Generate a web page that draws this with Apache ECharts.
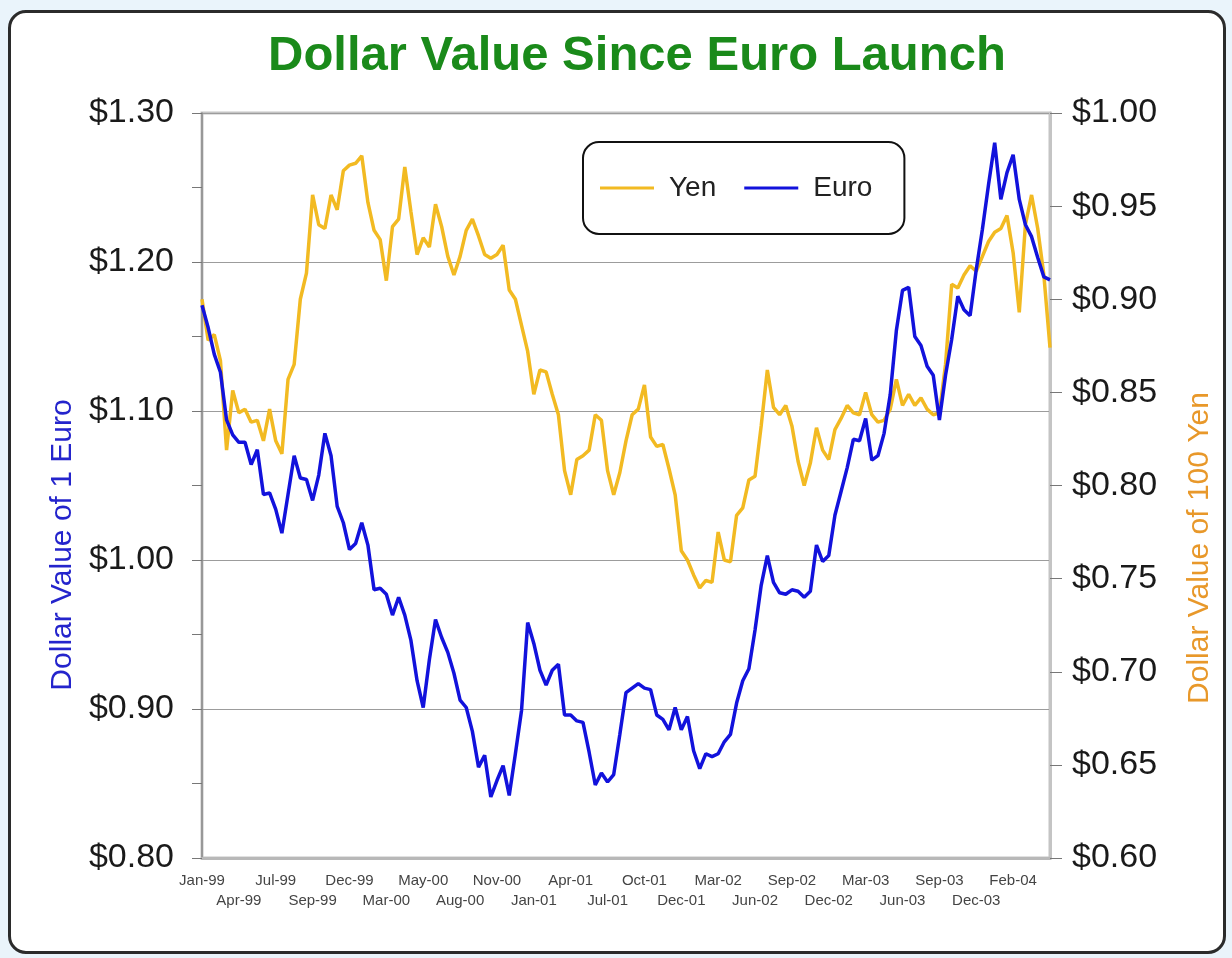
<!DOCTYPE html>
<html>
<head>
<meta charset="utf-8">
<title>Dollar Value Since Euro Launch</title>
<script src="https://cdn.jsdelivr.net/npm/echarts/dist/echarts.min.js"></script>
<style>
  html, body { margin: 0; padding: 0; }
  body { width: 1232px; height: 958px; background: #eaf4fb; position: relative; overflow: hidden; }
  #card {
    position: absolute; left: 8px; top: 10px; width: 1218px; height: 944px;
    box-sizing: border-box; border: 3px solid #2b2b2b; border-radius: 18px; background: #fff;
  }
  #chart { position: absolute; left: 0; top: 0; width: 1232px; height: 958px; }
</style>
</head>
<body>
<div id="card"></div>
<div id="chart"></div>
<script>
// labels under the x axis, one every STEP points (two staggered rows)
const tickLabels = [
  "Jan-99", "Apr-99", "Jul-99", "Sep-99", "Dec-99", "Mar-00", "May-00", "Aug-00",
  "Nov-00", "Jan-01", "Apr-01", "Jul-01", "Oct-01", "Dec-01", "Mar-02", "Jun-02",
  "Sep-02", "Dec-02", "Mar-03", "Jun-03", "Sep-03", "Dec-03", "Feb-04",
];
const STEP = 6;

// dollar value of 1 euro (left axis)
const euro = [
  1.171, 1.156, 1.138, 1.126, 1.094, 1.084, 1.079, 1.079, 1.064, 1.074,
  1.044, 1.045, 1.034, 1.018, 1.044, 1.070, 1.055, 1.054, 1.040, 1.057,
  1.085, 1.070, 1.036, 1.025, 1.007, 1.011, 1.025, 1.010, 0.980, 0.981,
  0.977, 0.963, 0.975, 0.963, 0.946, 0.919, 0.901, 0.933, 0.960, 0.948,
  0.938, 0.924, 0.906, 0.901, 0.885, 0.861, 0.869, 0.841, 0.852, 0.862,
  0.842, 0.870, 0.899, 0.958, 0.944, 0.926, 0.916, 0.926, 0.930, 0.896,
  0.896, 0.892, 0.891, 0.871, 0.849, 0.857, 0.851, 0.856, 0.883, 0.911,
  0.914, 0.917, 0.914, 0.913, 0.896, 0.893, 0.886, 0.901, 0.886, 0.895,
  0.872, 0.860, 0.870, 0.868, 0.870, 0.878, 0.883, 0.904, 0.919, 0.927,
  0.953, 0.983, 1.003, 0.985, 0.978, 0.977, 0.980, 0.979, 0.975, 0.979,
  1.010, 0.999, 1.003, 1.030, 1.046, 1.062, 1.081, 1.080, 1.095, 1.067,
  1.070, 1.085, 1.111, 1.154, 1.181, 1.183, 1.150, 1.144, 1.130, 1.124,
  1.094, 1.124, 1.148, 1.177, 1.168, 1.164, 1.195, 1.222, 1.252, 1.280,
  1.242, 1.260, 1.272, 1.242, 1.225, 1.217, 1.203, 1.190, 1.188,
];

// dollar value of 100 yen (right axis)
const yen = [
  0.900, 0.878, 0.881, 0.867, 0.819, 0.851, 0.839, 0.841, 0.834, 0.835,
  0.824, 0.841, 0.824, 0.817, 0.857, 0.865, 0.900, 0.914, 0.956, 0.940,
  0.938, 0.956, 0.948, 0.969, 0.972, 0.973, 0.977, 0.952, 0.937, 0.932,
  0.910, 0.939, 0.943, 0.971, 0.947, 0.924, 0.933, 0.928, 0.951, 0.939,
  0.923, 0.913, 0.923, 0.937, 0.943, 0.934, 0.924, 0.922, 0.924, 0.929,
  0.905, 0.900, 0.886, 0.872, 0.849, 0.862, 0.861, 0.849, 0.838, 0.808,
  0.795, 0.814, 0.816, 0.819, 0.838, 0.835, 0.808, 0.795, 0.807, 0.824,
  0.838, 0.841, 0.854, 0.826, 0.821, 0.822, 0.809, 0.795, 0.765, 0.760,
  0.752, 0.745, 0.749, 0.748, 0.775, 0.760, 0.759, 0.784, 0.788, 0.803,
  0.805, 0.832, 0.862, 0.842, 0.838, 0.843, 0.832, 0.813, 0.800, 0.812,
  0.831, 0.819, 0.814, 0.830, 0.836, 0.843, 0.839, 0.838, 0.850, 0.838,
  0.834, 0.835, 0.841, 0.857, 0.843, 0.849, 0.843, 0.847, 0.841, 0.838,
  0.839, 0.865, 0.908, 0.906, 0.913, 0.918, 0.915, 0.923, 0.931, 0.936,
  0.938, 0.945, 0.925, 0.893, 0.940, 0.956, 0.938, 0.913, 0.874,
];

const categories = euro.map((_, i) => String(i)); // weekly points
const FONT = "Liberation Sans, Arial, sans-serif";
const money = (v) => "$" + v.toFixed(2);

// one x axis per label row: row 0 = Jan-99, Jul-99, ...; row 1 = Apr-99, Sep-99, ...
const rowAxis = (row) => ({
  type: "category",
  data: categories,
  boundaryGap: false,
  position: "bottom",
  axisLine: row === 0 ? { lineStyle: { color: "#b8b8b8", width: 3 } } : { show: false },
  axisTick: { show: false },
  splitLine: { show: false },
  axisLabel: {
    interval: (idx) => idx % (2 * STEP) === row * STEP && !!tickLabels[idx / STEP],
    showMinLabel: true,
    showMaxLabel: true,
    hideOverlap: false,
    margin: row === 0 ? 15 : 35,
    fontSize: 15,
    color: "#444",
    fontFamily: FONT,
    formatter: (v, idx) => {
      const k = idx / STEP;
      return Number.isInteger(k) && k % 2 === row && tickLabels[k] ? tickLabels[k] : "";
    },
  },
});

const chart = echarts.init(document.getElementById("chart"));
const option = {
  animation: false,
  title: {
    text: "Dollar Value Since Euro Launch",
    left: 263,
    top: 27,
    textStyle: { fontSize: 49, fontWeight: "bold", color: "#1a8a1a", fontFamily: FONT },
  },
  legend: {
    data: ["Yen", "Euro"],
    left: 583,
    top: 142,
    padding: [32, 32, 32, 17],
    backgroundColor: "#fff",
    borderColor: "#111",
    borderWidth: 2,
    borderRadius: 16,
    icon: "rect",
    itemWidth: 54,
    itemHeight: 3,
    itemGap: 28,
    textStyle: { fontSize: 28, color: "#222", fontFamily: FONT, padding: [0, 0, 0, 10] },
  },
  grid: {
    left: 202,
    right: 182,
    top: 113,
    bottom: 100,
    show: true,
    borderColor: "#c4c4c4",
    borderWidth: 3,
  },
  xAxis: [rowAxis(0), rowAxis(1)],
  yAxis: [
    {
      type: "value",
      position: "left",
      min: 0.8,
      max: 1.3,
      interval: 0.1,
      axisLine: { show: true, lineStyle: { color: "#8a8a8a", width: 1.5 } },
      axisTick: { show: true, length: 10, lineStyle: { color: "#777" } },
      minorTick: { show: true, splitNumber: 2, length: 10, lineStyle: { color: "#777" } },
      splitLine: { show: true, lineStyle: { color: "#9c9c9c", width: 1.2 } },
      axisLabel: { formatter: money, fontSize: 34, color: "#1a1a1a", margin: 28, fontFamily: FONT },
    },
    {
      type: "value",
      position: "right",
      min: 0.6,
      max: 1.0,
      interval: 0.05,
      axisLine: { show: true, lineStyle: { color: "#c4c4c4", width: 3 } },
      axisTick: { show: true, length: 12, lineStyle: { color: "#777" } },
      splitLine: { show: false },
      axisLabel: { formatter: money, fontSize: 34, color: "#1a1a1a", margin: 22, fontFamily: FONT },
    },
  ],
  series: [
    {
      name: "Yen",
      type: "line",
      xAxisIndex: 0,
      yAxisIndex: 1,
      data: yen,
      showSymbol: false,
      symbol: "none",
      lineStyle: { color: "#f2ba22", width: 3.5 },
      itemStyle: { color: "#f2ba22" },
    },
    {
      name: "Euro",
      type: "line",
      xAxisIndex: 0,
      yAxisIndex: 0,
      data: euro,
      showSymbol: false,
      symbol: "none",
      lineStyle: { color: "#1212dc", width: 3.5 },
      itemStyle: { color: "#1212dc" },
    },
  ],
  graphic: [
    {
      type: "text",
      x: 63,
      y: 545,
      rotation: Math.PI / 2,
      style: {
        text: "Dollar Value of 1 Euro",
        fill: "#2424cc",
        fontSize: 30,
        fontFamily: FONT,
        align: "center",
        verticalAlign: "middle",
      },
    },
    {
      type: "text",
      x: 1200,
      y: 548,
      rotation: Math.PI / 2,
      style: {
        text: "Dollar Value of 100 Yen",
        fill: "#e8982a",
        fontSize: 30,
        fontFamily: FONT,
        align: "center",
        verticalAlign: "middle",
      },
    },
  ],
};
chart.setOption(option);
</script>
</body>
</html>
